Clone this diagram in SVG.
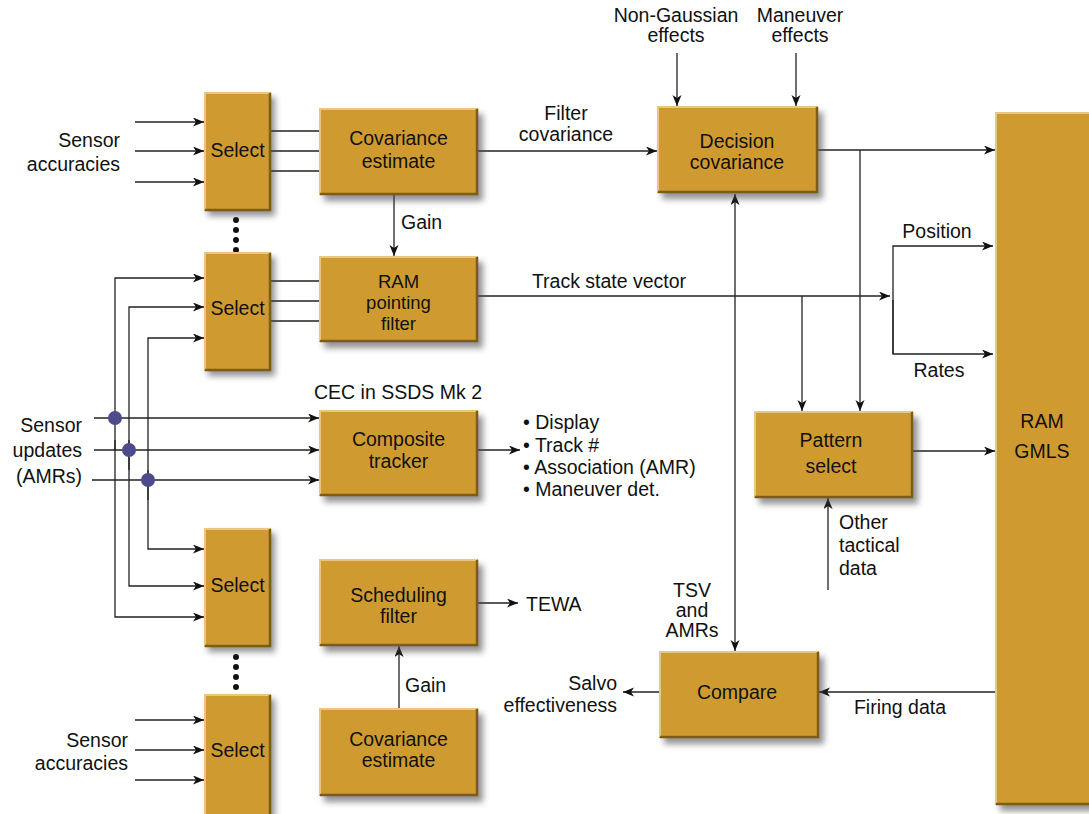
<svg xmlns="http://www.w3.org/2000/svg" width="1089" height="814" viewBox="0 0 1089 814">
<defs>
<filter id="blur" x="-20%" y="-20%" width="140%" height="140%"><feGaussianBlur stdDeviation="3"/></filter>
<marker id="ah" markerUnits="userSpaceOnUse" markerWidth="12" markerHeight="10" refX="11" refY="4.5" orient="auto-start-reverse"><path d="M0,0 L11,4.5 L0,9 L3,4.5 z" fill="#111"/></marker>
</defs>
<style>
.sh{fill:#4a4a4a;opacity:.6;filter:url(#blur)}
.box{fill:#CF9B31}
.hi{fill:none;stroke:#E9C781;stroke-width:2}
.lo{fill:none;stroke:#7E5C15;stroke-width:2.5}
.t{font-family:"Liberation Sans",Arial,sans-serif;font-size:19.5px;fill:#111}
.s{font-size:18.5px}
.m{text-anchor:middle}
.e{text-anchor:end}
.ln{fill:none;stroke:#222;stroke-width:1.3}
.ar{marker-end:url(#ah)}
.ar2{marker-start:url(#ah);marker-end:url(#ah)}
.dot{fill:#4D4B8C}
.bd{fill:#111}
</style>

<g id="connectors">
<path class="ln ar" d="M135,122 H204"/>
<path class="ln ar" d="M135,151 H204"/>
<path class="ln ar" d="M135,182 H204"/>
<path class="ln" d="M271,131 H319 M271,151 H319 M271,171 H319"/>
<path class="ln ar" d="M394,195 V256"/>
<path class="ln" d="M271,281 H319 M271,301 H319 M271,321 H319"/>
<path class="ln ar" d="M115,450 V278 H204"/>
<path class="ln ar" d="M129,470 V307 H204"/>
<path class="ln ar" d="M148,500 V338 H204"/>
<path class="ln ar" d="M115,440 V617 H204"/>
<path class="ln ar" d="M129,440 V586 H204"/>
<path class="ln ar" d="M148,470 V549 H204"/>
<path class="ln ar" d="M94,418 H319"/>
<path class="ln ar" d="M94,450 H319"/>
<path class="ln ar" d="M92,480 H319"/>
<path class="ln ar" d="M478,450 H520"/>
<path class="ln ar" d="M478,603 H518"/>
<path class="ln ar" d="M399,708 V646"/>
<path class="ln ar" d="M135,720 H204"/>
<path class="ln ar" d="M135,750 H204"/>
<path class="ln ar" d="M135,780 H204"/>
<path class="ln ar" d="M478,151 H657"/>
<path class="ln ar" d="M677,53 V106"/>
<path class="ln ar" d="M796,53 V106"/>
<path class="ln ar" d="M818,150 H995"/>
<path class="ln ar" d="M860,150 V411"/>
<path class="ln ar" d="M478,296 H890"/>
<path class="ln ar" d="M893,354 V246 H993"/>
<path class="ln ar" d="M893,300 V354 H993"/>
<path class="ln ar" d="M802,296 V411"/>
<path class="ln ar" d="M913,451 H995"/>
<path class="ln ar" d="M828,590 V498"/>
<path class="ln ar2" d="M735,194 V651"/>
<path class="ln ar" d="M995,692 H819"/>
<path class="ln ar" d="M659,692 H623"/>
<circle class="dot" cx="115" cy="418" r="7"/>
<circle class="dot" cx="129" cy="450" r="7"/>
<circle class="dot" cx="148" cy="480" r="7"/>
</g>

<g id="dots1"><circle class="bd" cx="236" cy="220" r="3"/><circle class="bd" cx="236" cy="230" r="3"/><circle class="bd" cx="236" cy="240" r="3"/><circle class="bd" cx="236" cy="250" r="3"/></g>
<g id="dots2"><circle class="bd" cx="236" cy="657" r="3"/><circle class="bd" cx="236" cy="667" r="3"/><circle class="bd" cx="236" cy="677" r="3"/><circle class="bd" cx="236" cy="687" r="3"/></g>

<g id="select1" transform="translate(204,92)"><rect class="sh" x="4" y="5" width="67" height="119"/><rect class="box" width="67" height="119"/><path class="hi" d="M1,118 V1 H66"/><path class="lo" d="M1,118 H66 V1"/><text class="t m" x="33.5" y="65">Select</text></g>
<g id="select2" transform="translate(204,252)"><rect class="sh" x="4" y="5" width="67" height="119"/><rect class="box" width="67" height="119"/><path class="hi" d="M1,118 V1 H66"/><path class="lo" d="M1,118 H66 V1"/><text class="t m" x="33.5" y="63">Select</text></g>
<g id="select3" transform="translate(204,528)"><rect class="sh" x="4" y="5" width="67" height="119"/><rect class="box" width="67" height="119"/><path class="hi" d="M1,118 V1 H66"/><path class="lo" d="M1,118 H66 V1"/><text class="t m" x="33.5" y="64">Select</text></g>
<g id="select4" transform="translate(204,694)"><rect class="sh" x="4" y="5" width="67" height="125"/><rect class="box" width="67" height="125"/><path class="hi" d="M1,124 V1 H66"/><path class="lo" d="M66,125 V1"/><text class="t m" x="33.5" y="63">Select</text></g>

<g id="cov1" transform="translate(319,108)"><rect class="sh" x="5" y="6" width="159" height="87"/><rect class="box" width="159" height="87"/><path class="hi" d="M1,86 V1 H158"/><path class="lo" d="M1,86 H158 V1"/><text class="t m" x="79.5" y="37">Covariance</text><text class="t m" x="79.5" y="60">estimate</text></g>
<g id="rampf" transform="translate(319,256)"><rect class="sh" x="5" y="6" width="159" height="86"/><rect class="box" width="159" height="86"/><path class="hi" d="M1,85 V1 H158"/><path class="lo" d="M1,85 H158 V1"/><text class="t s m" x="79.5" y="32">RAM</text><text class="t s m" x="79.5" y="53">pointing</text><text class="t s m" x="79.5" y="74">filter</text></g>
<g id="composite" transform="translate(319,410)"><rect class="sh" x="5" y="6" width="159" height="86"/><rect class="box" width="159" height="86"/><path class="hi" d="M1,85 V1 H158"/><path class="lo" d="M1,85 H158 V1"/><text class="t m" x="79.5" y="36">Composite</text><text class="t m" x="79.5" y="58">tracker</text></g>
<g id="sched" transform="translate(319,559)"><rect class="sh" x="5" y="6" width="159" height="87"/><rect class="box" width="159" height="87"/><path class="hi" d="M1,86 V1 H158"/><path class="lo" d="M1,86 H158 V1"/><text class="t m" x="79.5" y="43">Scheduling</text><text class="t m" x="79.5" y="64">filter</text></g>
<g id="cov2" transform="translate(319,708)"><rect class="sh" x="5" y="6" width="159" height="88"/><rect class="box" width="159" height="88"/><path class="hi" d="M1,87 V1 H158"/><path class="lo" d="M1,87 H158 V1"/><text class="t m" x="79.5" y="38">Covariance</text><text class="t m" x="79.5" y="59">estimate</text></g>
<g id="decision" transform="translate(657,106)"><rect class="sh" x="5" y="6" width="161" height="87"/><rect class="box" width="161" height="87"/><path class="hi" d="M1,86 V1 H160"/><path class="lo" d="M1,86 H160 V1"/><text class="t m" x="80" y="42">Decision</text><text class="t m" x="80" y="63">covariance</text></g>
<g id="pattern" transform="translate(754,411)"><rect class="sh" x="5" y="6" width="159" height="87"/><rect class="box" width="159" height="87"/><path class="hi" d="M1,86 V1 H158"/><path class="lo" d="M1,86 H158 V1"/><text class="t m" x="77" y="36">Pattern</text><text class="t m" x="77" y="62">select</text></g>
<g id="compare" transform="translate(659,651)"><rect class="sh" x="5" y="6" width="160" height="87"/><rect class="box" width="160" height="87"/><path class="hi" d="M1,86 V1 H159"/><path class="lo" d="M1,86 H159 V1"/><text class="t m" x="78" y="48">Compare</text></g>
<g id="ramgmls" transform="translate(995,112)"><rect class="sh" x="5" y="6" width="100" height="693"/><rect class="box" width="100" height="693"/><path class="hi" d="M1,692 V1 H100"/><path class="lo" d="M1,692 H100"/><text class="t m" x="47" y="316">RAM</text><text class="t m" x="47" y="346">GMLS</text></g>

<g id="labels">
<text class="t e" x="120" y="147">Sensor</text><text class="t e" x="120" y="171">accuracies</text>
<text class="t e" x="128" y="747">Sensor</text><text class="t e" x="128" y="770">accuracies</text>
<text class="t e" x="82" y="432">Sensor</text><text class="t e" x="82" y="457">updates</text><text class="t e" x="82" y="483">(AMRs)</text>
<text class="t" x="401" y="229">Gain</text>
<text class="t" x="405" y="692">Gain</text>
<text class="t m" x="398" y="399">CEC in SSDS Mk 2</text>
<text class="t" x="523" y="429">• Display</text>
<text class="t" x="523" y="452">• Track #</text>
<text class="t" x="523" y="474">• Association (AMR)</text>
<text class="t" x="523" y="496">• Maneuver det.</text>
<text class="t" x="526" y="611">TEWA</text>
<text class="t m" x="676" y="22">Non-Gaussian</text><text class="t m" x="676" y="42">effects</text>
<text class="t m" x="800" y="22">Maneuver</text><text class="t m" x="800" y="42">effects</text>
<text class="t m" x="566" y="120">Filter</text><text class="t m" x="566" y="141">covariance</text>
<text class="t m" x="609" y="288">Track state vector</text>
<text class="t m" x="937" y="238">Position</text>
<text class="t m" x="939" y="377">Rates</text>
<text class="t" x="839" y="529">Other</text><text class="t" x="839" y="552">tactical</text><text class="t" x="839" y="575">data</text>
<text class="t m" x="692" y="597">TSV</text><text class="t m" x="692" y="617">and</text><text class="t m" x="692" y="637">AMRs</text>
<text class="t e" x="617" y="690">Salvo</text><text class="t e" x="617" y="712">effectiveness</text>
<text class="t m" x="900" y="714">Firing data</text>
</g>
</svg>
